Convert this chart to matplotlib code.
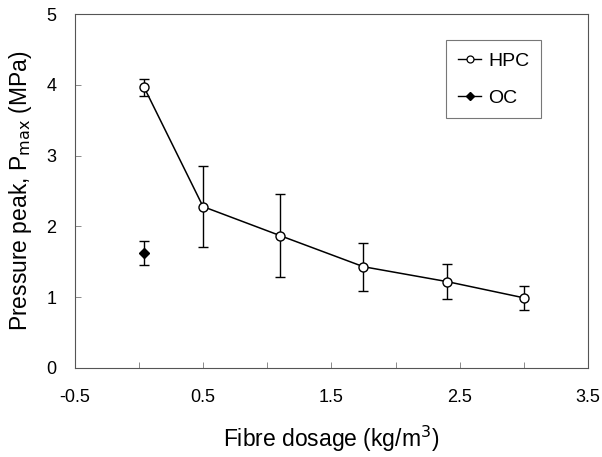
import matplotlib
matplotlib.use("Agg")
import matplotlib.pyplot as plt
from matplotlib.lines import Line2D
import numpy as np

plt.rcParams['font.family'] = ['Liberation Sans', 'DejaVu Sans']

hpc_x = [0.04, 0.5, 1.1, 1.75, 2.4, 3.0]
hpc_y = [3.97, 2.28, 1.87, 1.43, 1.22, 0.99]
hpc_err = [0.12, 0.57, 0.59, 0.34, 0.25, 0.17]
oc_x = [0.04]
oc_y = [1.62]
oc_err = [0.17]

fig = plt.figure(figsize=(6.02, 4.57), dpi=100)
ax = fig.add_axes([0.124, 0.195, 0.853, 0.774])

ax.errorbar(hpc_x, hpc_y, yerr=hpc_err, color='black', lw=1.1, marker='o',
            ms=6.5, mfc='white', mec='black', mew=1.0, capsize=3.5,
            elinewidth=1.0, capthick=1.0)
ax.errorbar(oc_x, oc_y, yerr=oc_err, color='black', lw=1.1, marker='D',
            ms=5, mfc='black', mec='black', capsize=3.5, elinewidth=1.0,
            capthick=1.0)

ax.set_xlim(-0.5, 3.5)
ax.set_ylim(0, 5)
ax.set_xticks(np.arange(-0.5, 3.51, 0.5))
ax.set_xticklabels(['-0.5', '', '0.5', '', '1.5', '', '2.5', '', '3.5'])
ax.set_yticks([0, 1, 2, 3, 4, 5])
ax.tick_params(direction='in', length=4, width=0.6, labelsize=13,
               colors='#777777', labelcolor='black')
ax.tick_params(axis='x', pad=15)
ax.tick_params(axis='y', pad=13)
for s in ax.spines.values():
    s.set_color('#555555')
    s.set_linewidth(0.8)

ax.set_xlabel('Fibre dosage (kg/m$^3$)', fontsize=16.5, labelpad=13)
ax.set_ylabel('Pressure peak, P$_{\\mathrm{max}}$ (MPa)', fontsize=16.5, labelpad=9)

handles = [
    Line2D([], [], color='black', lw=1.0, marker='o', ms=5, mfc='white', mec='black', mew=0.9),
    Line2D([], [], color='black', lw=1.0, marker='D', ms=4, mfc='black', mec='black'),
]
leg = ax.legend(handles, ['HPC', 'OC'], loc='upper left',
                bbox_to_anchor=(0.724, 0.926), fontsize=14,
                frameon=True, fancybox=False, edgecolor='#555555',
                handlelength=1.2, borderpad=0.6, labelspacing=1.0,
                handletextpad=0.35, borderaxespad=0)
leg.get_frame().set_linewidth(0.8)

fig.savefig('out.png', dpi=100)
